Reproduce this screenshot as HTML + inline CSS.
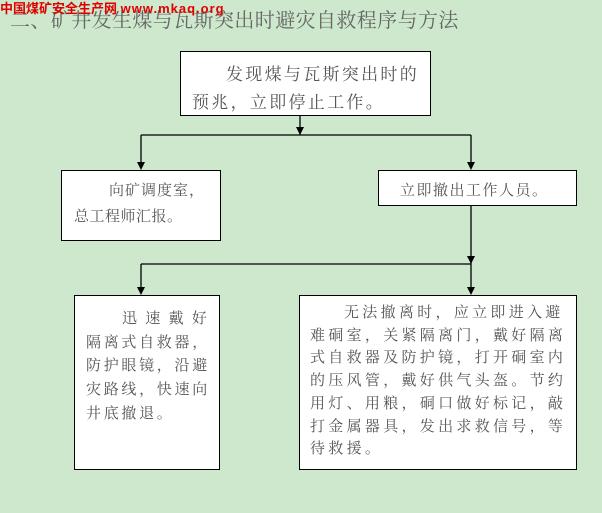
<!DOCTYPE html>
<html><head><meta charset="utf-8"><style>
html,body{margin:0;padding:0}
body{width:602px;height:513px;background:#cde8cc;position:relative;overflow:hidden;font-family:"Liberation Serif","Noto Serif CJK SC","Noto Sans CJK SC",serif;color:#555}
.t{position:absolute;white-space:nowrap}
.box{position:absolute;background:#fff;border:1.5px solid #000;box-sizing:border-box}
.tx{position:absolute;font-size:15px;white-space:nowrap;color:#555}
</style></head><body>
<div class="t" style="left:10px;top:4px;font-size:20px;color:#666;letter-spacing:0.4px">二、矿井发生煤与瓦斯突出时避灾自救程序与方法</div>
<div class="t" style="left:0;top:-2px;font-size:13px;font-weight:bold;color:#e00000;font-family:'Liberation Sans','Noto Sans CJK SC',sans-serif">中国煤矿安全生产网 <span style="letter-spacing:1px">www.mkaq.org</span></div>

<svg width="602" height="513" style="position:absolute;left:0;top:0">
<g stroke="#000" stroke-width="1.3" fill="none">
<line x1="300" y1="116" x2="300" y2="135"/>
<line x1="141" y1="135" x2="471" y2="135"/>
<line x1="141" y1="135" x2="141" y2="168"/>
<line x1="471" y1="135" x2="471" y2="168"/>
<line x1="471" y1="206" x2="471" y2="293"/>
<line x1="141" y1="264" x2="471" y2="264"/>
<line x1="141" y1="264" x2="141" y2="293"/>
</g>
<g fill="#000">
<polygon points="296,127 304,127 300,135"/>
<polygon points="137,162 145,162 141,170"/>
<polygon points="467,162 475,162 471,170"/>
<polygon points="467,256 475,256 471,264"/>
<polygon points="137,287 145,287 141,295"/>
<polygon points="467,287 475,287 471,295"/>
</g>
</svg>

<div class="box" style="left:180px;top:51px;width:251px;height:65px"></div>
<div class="tx" style="left:226px;top:60px;font-size:17px;letter-spacing:2.3px">发现煤与瓦斯突出时的</div>
<div class="tx" style="left:192px;top:88px;font-size:17px;letter-spacing:2.3px">预兆，立即停止工作。</div>

<div class="box" style="left:61px;top:170px;width:160px;height:71px"></div>
<div class="tx" style="left:109px;top:179px;font-size:15px;letter-spacing:1px">向矿调度室，</div>
<div class="tx" style="left:74px;top:205px;font-size:15px;letter-spacing:0.5px">总工程师汇报。</div>

<div class="box" style="left:378px;top:170px;width:199px;height:36px"></div>
<div class="tx" style="left:400px;top:179px;font-size:15px;letter-spacing:1.5px">立即撤出工作人员。</div>

<div class="box" style="left:74px;top:295px;width:146px;height:175px"></div>
<div style="position:absolute;left:86px;top:308px;font-size:15px;line-height:23.7px;letter-spacing:2.7px;color:#555;white-space:nowrap">
<div style="padding-left:36px;letter-spacing:8.3px">迅速戴好</div>
<div>隔离式自救器，</div>
<div>防护眼镜，沿避</div>
<div>灾路线，快速向</div>
<div>井底撤退。</div>
</div>

<div class="box" style="left:299px;top:295px;width:278px;height:175px"></div>
<div style="position:absolute;left:310px;top:302px;font-size:15px;line-height:22.7px;letter-spacing:3.3px;color:#555;white-space:nowrap">
<div style="padding-left:34px">无法撤离时，应立即进入避</div>
<div>难硐室，关紧隔离门，戴好隔离</div>
<div>式自救器及防护镜，打开硐室内</div>
<div>的压风管，戴好供气头盔。节约</div>
<div>用灯、用粮，硐口做好标记，敲</div>
<div>打金属器具，发出求救信号，等</div>
<div>待救援。</div>
</div>
</body></html>
